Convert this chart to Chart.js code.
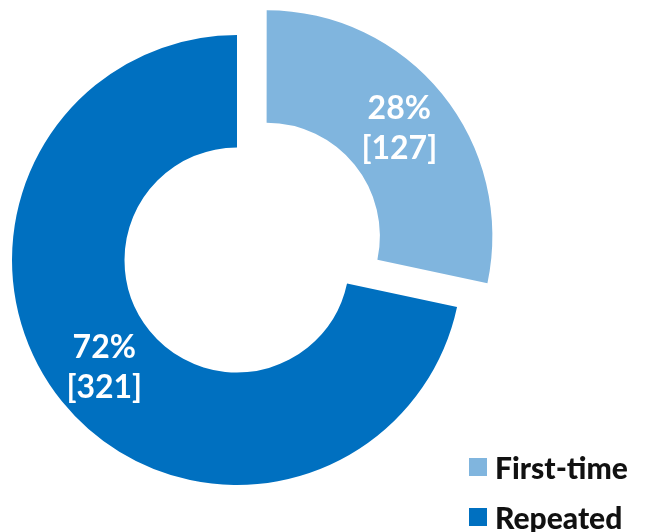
<!DOCTYPE html>
<html>
<head>
<meta charset="utf-8">
<script src="https://cdn.jsdelivr.net/npm/chart.js@4/dist/chart.umd.min.js"></script>
<style>
  html, body { margin: 0; padding: 0; background: #ffffff; }
  #wrap { position: relative; width: 650px; height: 532px; overflow: hidden; }
  #legend { position: absolute; left: 469px; top: 442px; font-family: "Lato", "DejaVu Sans", sans-serif; font-weight: 900; font-size: 30px; color: #111111; }
  .item { display: flex; align-items: center; height: 50px; white-space: nowrap; }
  .swatch { width: 18px; height: 18px; margin-right: 8px; flex: none; }
</style>
</head>
<body>
<div id="wrap">
  <canvas id="chart" width="650" height="532"></canvas>
  <div id="legend"></div>
</div>
<script>
// Visitor breakdown
const categories = ["First-time", "Repeated"];
const visitors = [127, 321];
const colors = ["#80B5DE", "#0070C0"];
const explode = [152, 0];

const total = visitors.reduce((a, b) => a + b, 0);

// Draws "NN%" and "[count]" on each ring segment
const sliceLabels = {
  id: "sliceLabels",
  afterDatasetsDraw(chart) {
    const ctx = chart.ctx;
    const meta = chart.getDatasetMeta(0);
    ctx.save();
    ctx.fillStyle = "#ffffff";
    ctx.font = "bold 32px Lato, 'DejaVu Sans', sans-serif";
    ctx.textAlign = "center";
    ctx.textBaseline = "middle";
    meta.data.forEach((arc, i) => {
      const p = arc.getProps(["x", "y", "startAngle", "endAngle", "innerRadius", "outerRadius"], true);
      const mid = (p.startAngle + p.endAngle) / 2;
      const shift = (arc.options.offset || 0) / 4;
      const r = (p.innerRadius + p.outerRadius) / 2 + 2 + shift;
      const cx = p.x + Math.cos(mid) * r;
      const cy = p.y + Math.sin(mid) * r;
      const pct = Math.round(visitors[i] / total * 100) + "%";
      ctx.fillText(pct, cx, cy - 20);
      ctx.fillText("[" + visitors[i] + "]", cx, cy + 20);
    });
    ctx.restore();
  }
};

new Chart(document.getElementById("chart"), {
  type: "doughnut",
  data: {
    labels: categories,
    datasets: [{
      data: visitors,
      backgroundColor: colors,
      borderWidth: 0,
      offset: explode,
      hoverOffset: 0
    }]
  },
  options: {
    responsive: false,
    animation: false,
    events: [],
    cutout: "50%",
    radius: 225,
    layout: { padding: { left: 0, right: 176, top: 0, bottom: 12 } },
    plugins: {
      legend: { display: false },
      tooltip: { enabled: false }
    }
  },
  plugins: [sliceLabels]
});

// Legend
const legend = document.getElementById("legend");
categories.forEach((name, i) => {
  const row = document.createElement("div");
  row.className = "item";
  const sw = document.createElement("span");
  sw.className = "swatch";
  sw.style.background = colors[i];
  const tx = document.createElement("span");
  tx.textContent = name;
  row.appendChild(sw);
  row.appendChild(tx);
  legend.appendChild(row);
});
</script>
</body>
</html>
